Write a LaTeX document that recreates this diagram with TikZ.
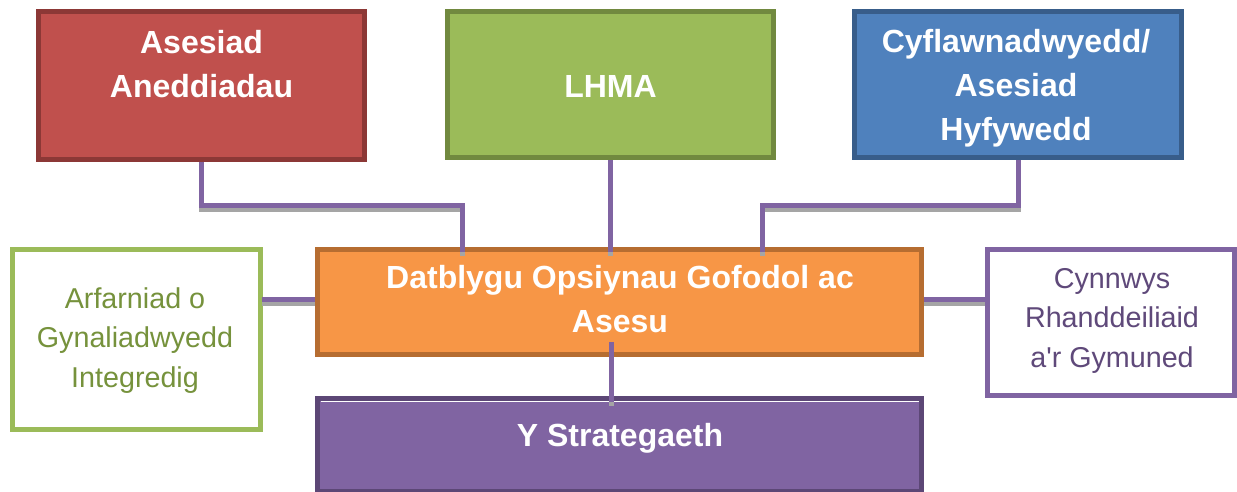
\documentclass[tikz,border=0pt]{standalone}
\usepackage{fontspec}
\setmainfont{Liberation Sans}[Ligatures=TeXOff]
\usetikzlibrary{calc}
\definecolor{redfill}{HTML}{C0504D}
\definecolor{redline}{HTML}{8C3836}
\definecolor{greenfill}{HTML}{9BBB59}
\definecolor{greenline}{HTML}{71893F}
\definecolor{greentext}{HTML}{76923C}
\definecolor{bluefill}{HTML}{4F81BD}
\definecolor{blueline}{HTML}{385D8A}
\definecolor{orangefill}{HTML}{F79646}
\definecolor{orangeline}{HTML}{B66D31}
\definecolor{purplefill}{HTML}{8064A2}
\definecolor{purpleline}{HTML}{5C4776}
\definecolor{purpletext}{HTML}{5F497A}
\definecolor{connpurple}{HTML}{8064A2}
\definecolor{shadowgray}{HTML}{A5A5A5}
\begin{document}
\begin{tikzpicture}[x=1pt,y=-1pt,
  box/.style={rectangle, inner sep=0pt, outer sep=0pt, line width=5pt},
  btext/.style={anchor=base, align=center, inner sep=0pt, text=white,
    font=\fontsize{32}{44}\selectfont\bfseries},
  ltext/.style={anchor=base, align=center, inner sep=0pt,
    font=\fontsize{28.7}{39.5}\selectfont},
  conn/.style={draw=connpurple, line width=5pt},
  shad/.style={draw=shadowgray, line width=5pt, transform canvas={yshift=-4pt}}]
\useasboundingbox (0,0) rectangle (1237,492);

% boxes
\node[box, draw=redline, fill=redfill, minimum width=326pt, minimum height=148pt] (red) at (201.5,85.5) {};
\node[box, draw=greenline, fill=greenfill, minimum width=326pt, minimum height=146pt] (green) at (610.5,84.5) {};
\node[box, draw=blueline, fill=bluefill, minimum width=327pt, minimum height=146pt] (blue) at (1018,84.5) {};
\node[box, draw=orangeline, fill=orangefill, minimum width=604pt, minimum height=105pt] (orange) at (619.5,302) {};
\node[box, draw=greenfill, fill=white, minimum width=248pt, minimum height=180pt] (left) at (136,339) {};
\node[box, draw=connpurple, fill=white, minimum width=247pt, minimum height=146pt] (right) at (1111,322.5) {};
\node[box, draw=purpleline, fill=purplefill, minimum width=604pt, minimum height=93pt] (purple) at (619.5,444.5) {};
\draw[white, line width=1.5pt] ($(purple.north west)+(3,3.5)$) -- ($(purple.north east)+(-3,3.5)$);

% texts (anchor = baseline of the last line)
\node[btext] (tred) at (201.5,98) {Asesiad\\Aneddiadau};
\node[btext] (tgreen) at (610.5,98) {LHMA};
\node[btext] (tblue) at (1016,141) {Cyflawnadwyedd/\\Asesiad\\Hyfywedd};
\node[btext] (torange) at (620,332) {Datblygu Opsiynau Gofodol ac\\Asesu};
\node[btext] (tpurple) at (620,446) {Y Strategaeth};
\node[ltext, text=greentext] (tleft) at (135,387) {Arfarniad o\\Gynaliadwyedd\\Integredig};
\node[ltext, text=purpletext] (tright) at (1112,367) {Cynnwys\\Rhanddeiliaid\\a'r Gymuned};

% junction coordinates
\coordinate (jr) at (462,205);
\coordinate (jb) at (762,205);
\coordinate (jl) at (262,299);
\coordinate (jrr) at (924,299);
\coordinate (jd) at (611,342);

% shadows
\path[shad, shorten <=2.5pt, shorten >=-2.5pt] (red.south) |- (jr) -- (jr |- orange.north);
\path[shad, shorten <=2.5pt, shorten >=-2.5pt] (green.south) -- (green.south |- orange.north);
\path[shad, shorten <=2.5pt, shorten >=-2.5pt] (blue.south) |- (jb) -- (jb |- orange.north);
\path[shad, shorten >=2.5pt] (jl) -- (jl -| orange.west);
\path[shad, shorten >=2.5pt] (jrr) -- (jrr -| right.west);
\path[shad, shorten >=-3.5pt] (jd) -- (jd |- purple.north);

% connectors
\path[conn, shorten <=2.5pt, shorten >=-2.5pt] (red.south) |- (jr) -- (jr |- orange.north);
\path[conn, shorten <=2.5pt, shorten >=-2.5pt] (green.south) -- (green.south |- orange.north);
\path[conn, shorten <=2.5pt, shorten >=-2.5pt] (blue.south) |- (jb) -- (jb |- orange.north);
\path[conn, shorten >=2.5pt] (jl) -- (jl -| orange.west);
\path[conn, shorten >=2.5pt] (jrr) -- (jrr -| right.west);
\path[conn, shorten >=-3.5pt] (jd) -- (jd |- purple.north);
\end{tikzpicture}
\end{document}
